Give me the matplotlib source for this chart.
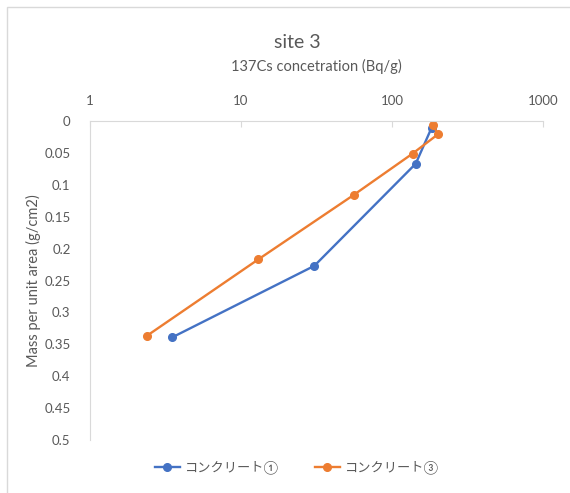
import matplotlib.pyplot as plt
from matplotlib.patches import Rectangle

plt.rcParams['font.family'] = ['Lato', 'Noto Sans CJK JP', 'DejaVu Sans']

# concrete 1
conc1 = [183, 143.5, 30.6, 3.51]
mass1 = [0.0105, 0.067, 0.227, 0.339]
# concrete 3
conc3 = [188, 201, 137, 55.7, 13.0, 2.37]
mass3 = [0.0068, 0.021, 0.051, 0.116, 0.217, 0.337]

names = ["コンクリート①", "コンクリート③"]
yticks = [0, 0.05, 0.1, 0.15, 0.2, 0.25, 0.3, 0.35, 0.4, 0.45, 0.5]
ytick_labels = ["0", "0.05", "0.1", "0.15", "0.2", "0.25", "0.3", "0.35", "0.4", "0.45", "0.5"]
xticks = [1, 10, 100, 1000]

txt = "#595959"
W, H = 570, 493

fig = plt.figure(figsize=(W / 100, H / 100), dpi=100)
fig.patches.append(Rectangle((7 / W, -0.1), 1.2, (H - 7) / H + 0.1, transform=fig.transFigure,
                             fill=False, edgecolor="#d9d9d9", linewidth=1))
ax = fig.add_axes([90 / W, 1 - 440 / H, (543 - 90) / W, (440 - 121) / H])

ax.plot(conc1, mass1, color="#4472C4", lw=1.7, marker="o", ms=5.5, label=names[0])
ax.plot(conc3, mass3, color="#ED7D31", lw=1.7, marker="o", ms=5.5, label=names[1])

ax.set_xscale("log")
ax.set_xlim(1, 1000)
ax.set_ylim(0.5, 0)
ax.xaxis.tick_top()
ax.xaxis.set_label_position("top")
ax.set_xticks(xticks)
ax.set_xticklabels([str(v) for v in xticks])
ax.minorticks_off()
ax.set_yticks(yticks)
ax.set_yticklabels(ytick_labels)

ax.tick_params(axis="x", direction="in", length=4, color="#d9d9d9", labelcolor=txt, labelsize=9.5, pad=10)
ax.tick_params(axis="y", length=0, labelcolor=txt, labelsize=9.5, pad=14)

for s in ["right", "bottom"]:
    ax.spines[s].set_visible(False)
for s in ["top", "left"]:
    ax.spines[s].set_color("#d9d9d9")

ax.set_xlabel("137Cs concetration (Bq/g)", color=txt, fontsize=10.5, labelpad=17)
ax.set_ylabel("Mass per unit area (g/cm2)", color=txt, fontsize=10.5)
ax.yaxis.set_label_coords(-0.108, 0.5)
fig.text(297 / W, 1 - 42 / H, "site 3", ha="center", va="center", color=txt, fontsize=14)

fig.legend(loc="center", bbox_to_anchor=(297 / W, 1 - 467 / H), ncol=2, frameon=False,
           fontsize=9.5, labelcolor=txt, handlelength=1.9, handletextpad=0.4, columnspacing=2.7)

fig.savefig("out.png", dpi=100)
